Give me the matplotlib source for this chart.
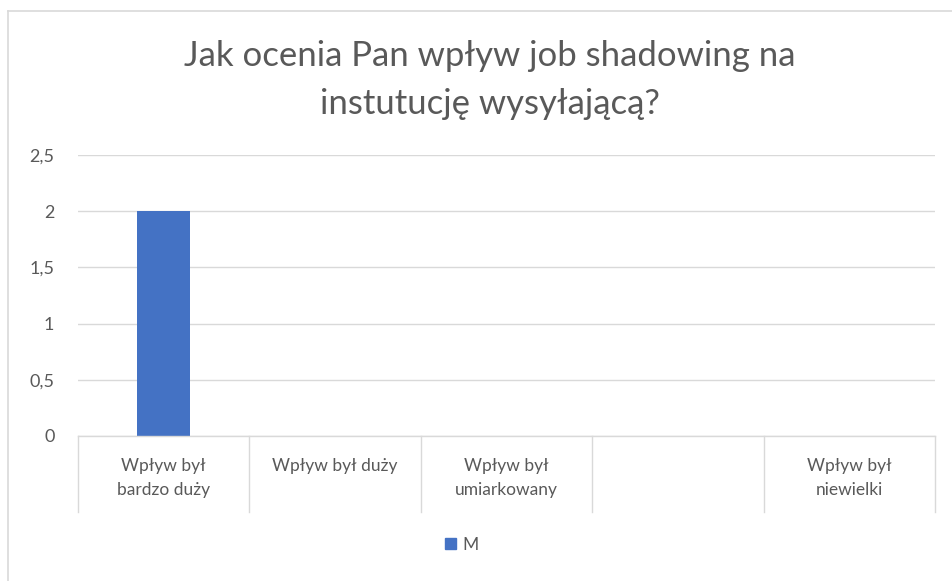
import matplotlib.pyplot as plt
from matplotlib.lines import Line2D
from matplotlib.patches import Patch

# =====================================================
# DANE
# =====================================================

kategorie = [
    "Wpływ był\nbardzo duży",
    "Wpływ był duży",
    "Wpływ był\numiarkowany",
    "",
    "Wpływ był\nniewielki",
]
wartosci_m = [2, 0, 0, 0, 0]
ticki_y = [0, 0.5, 1, 1.5, 2, 2.5]
etykiety_y = ["0", "0,5", "1", "1,5", "2", "2,5"]

TYTUL = "Jak ocenia Pan wpływ job shadowing na\ninstutucję wysyłającą?"
SZARY = "#595959"
LINIA = "#d9d9d9"
NIEBIESKI = "#4472C4"

plt.rcParams["font.family"] = ["Lato", "DejaVu Sans"]

fig = plt.figure(figsize=(9.53, 5.81), dpi=100)
ax = fig.add_axes([78 / 953, 1 - 436 / 581, (935 - 78) / 953, (436 - 155) / 581])

pozycje = list(range(len(kategorie)))
ax.bar(pozycje, wartosci_m, width=0.31, color=NIEBIESKI, zorder=3)

ax.set_xlim(-0.5, len(kategorie) - 0.5)
ax.set_ylim(0, 2.5)
ax.set_yticks(ticki_y)
ax.set_yticklabels(etykiety_y, color=SZARY, fontsize=13)
ax.tick_params(axis="y", length=0, pad=17)
ax.set_xticks([])

ax.grid(axis="y", color=LINIA, linewidth=1, zorder=0)
for lado in ax.spines.values():
    lado.set_visible(False)

# linie tabeli pod osią X
for i in range(len(kategorie) + 1):
    ax.plot([i - 0.5, i - 0.5], [0, -0.676], color=LINIA, linewidth=1,
            clip_on=False)
ax.plot([-0.5, len(kategorie) - 0.5], [0, 0], color=LINIA, linewidth=1,
        clip_on=False, zorder=4)

for i, nazwa in enumerate(kategorie):
    ax.text(i, -0.195, nazwa, ha="center", va="top", color=SZARY,
            fontsize=12.5, linespacing=1.6)

fig.text(490 / 953, 1 - 80 / 581, TYTUL, fontsize=25, color=SZARY,
         ha="center", va="center", linespacing=1.6)

# legenda
ax.legend(handles=[Patch(color=NIEBIESKI, label="M")], loc="center",
          bbox_to_anchor=(462 / 953, 1 - 545 / 581),
          bbox_transform=fig.transFigure, frameon=False, fontsize=12.5,
          labelcolor=SZARY, handlelength=0.6, handleheight=0.6,
          handletextpad=0.4)

# ramka wykresu
fig.add_artist(Line2D([8 / 953, 1], [1 - 11 / 581, 1 - 11 / 581],
                      color=LINIA, linewidth=1.2))
fig.add_artist(Line2D([8 / 953, 8 / 953], [0, 1 - 11 / 581],
                      color=LINIA, linewidth=1.2))

fig.savefig("out.png", dpi=100)
